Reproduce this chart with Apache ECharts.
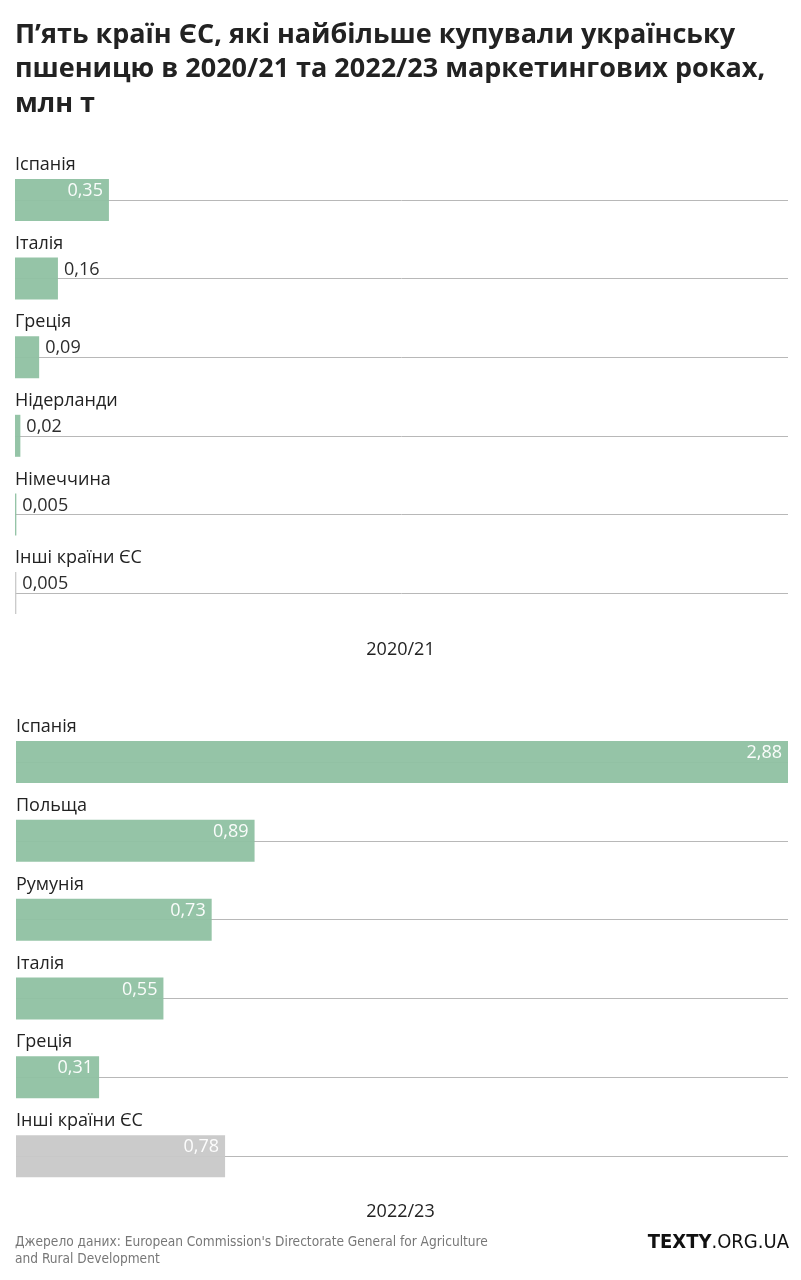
<!DOCTYPE html>
<html><head><meta charset="utf-8">
<script src="https://cdn.jsdelivr.net/npm/echarts@6/dist/echarts.min.js"></script>
<style>html,body{margin:0;padding:0;background:#fff}#c{width:801px;height:1280px}</style>
</head><body><div id="c"></div>
<script>
const titleText = 'П’ять країн ЄС, які найбільше купували українську\nпшеницю в 2020/21 та 2022/23 маркетингових роках,\nмлн т';
const categoriesA = ['Іспанія','Італія','Греція','Нідерланди','Німеччина','Інші країни ЄС'];
const valuesA = [0.35, 0.16, 0.09, 0.02, 0.005, 0.005];
const periodA = '2020/21';
const categoriesB = ['Іспанія','Польща','Румунія','Італія','Греція','Інші країни ЄС'];
const valuesB = [2.88, 0.89, 0.73, 0.55, 0.31, 0.78];
const periodB = '2022/23';
const axisMax = 2.88;
const sourceText = 'Джерело даних: European Commission\'s Directorate General for Agriculture\nand Rural Development';

const GREEN = '#8fc1a2', GREY = '#c8c8c8', LINE = '#b8b8b8', TEXT = '#222';
const FONT = '"Open Sans", Roboto, sans-serif';
const NARROW = '"Liberation Sans Narrow", "DejaVu Sans Condensed", sans-serif';
const OTHER = 'Інші країни ЄС';

function items(cats, vals) {
  return vals.map((v, i) => {
    const inside = v >= 0.3;
    return {
      value: v,
      itemStyle: { color: cats[i] === OTHER ? GREY : GREEN, opacity: 0.95 },
      label: inside
        ? { position: 'insideRight', color: '#fff', offset: [-1, -9] }
        : { position: 'right', color: TEXT, offset: [0, -9], distance: 6 }
    };
  });
}
function lineData(cats) {
  return cats.map((c, i) => [{ coord: [0, i] }, { coord: [axisMax, i] }]);
}
const grids = [
  { left: 15, right: 13, top: 160.7, height: 471.6 },
  { left: 16, right: 13, top: 722.6, height: 473 }
];
function yAx(cats, gi) {
  return {
    type: 'category', gridIndex: gi, data: cats, inverse: true,
    axisLine: { show: false }, axisTick: { show: false }, splitLine: { show: false },
    axisLabel: { inside: true, margin: 0, interval: 0, verticalAlign: 'bottom', padding: [0, 0, 26, 0],
      fontSize: 18, color: TEXT, fontFamily: FONT }
  };
}
function xAx(gi) {
  return { type: 'value', gridIndex: gi, min: 0, max: axisMax, show: false };
}
function barSeries(cats, vals, gi) {
  return {
    type: 'bar', xAxisIndex: gi, yAxisIndex: gi, barWidth: 42, z: 3,
    data: items(cats, vals),
    label: { show: true, fontSize: 18, fontFamily: FONT,
      formatter: p => String(p.value).replace('.', ',') }
  };
}
function lineSeries(cats, gi) {
  return {
    type: 'line', xAxisIndex: gi, yAxisIndex: gi, data: [], z: 1, silent: true,
    markLine: { silent: true, z: 1, symbol: ['none', 'none'], label: { show: false },
      lineStyle: { color: LINE, width: 1, type: 'solid' }, animation: false,
      data: lineData(cats) }
  };
}
const chart = echarts.init(document.getElementById('c'), null, { renderer: 'canvas' });
chart.setOption({
  animation: false,
  backgroundColor: '#fff',
  title: [
    { text: titleText, left: 15, top: 18, padding: 0,
      textStyle: { fontSize: 27, fontWeight: 'bold', lineHeight: 34.5, color: TEXT, fontFamily: FONT } },
    { text: periodA, left: 'center', top: 640, padding: 0,
      textStyle: { fontSize: 18, fontWeight: 'normal', lineHeight: 20, color: TEXT, fontFamily: FONT } },
    { text: periodB, left: 'center', top: 1202, padding: 0,
      textStyle: { fontSize: 18, fontWeight: 'normal', lineHeight: 20, color: TEXT, fontFamily: FONT } },
    { text: sourceText, left: 15, top: 1234, padding: 0,
      textStyle: { fontSize: 13.6, fontWeight: 'normal', lineHeight: 17, color: '#777', fontFamily: NARROW } },
    { text: '{b|TEXTY}{r|.ORG.UA}', right: 12, top: 1233, padding: 0,
      textStyle: { rich: {
        b: { fontSize: 20, fontWeight: 'bold', color: '#111', fontFamily: NARROW },
        r: { fontSize: 20, fontWeight: 'normal', color: '#111', fontFamily: NARROW } } } }
  ],
  grid: grids,
  xAxis: [xAx(0), xAx(1)],
  yAxis: [yAx(categoriesA, 0), yAx(categoriesB, 1)],
  series: [
    lineSeries(categoriesA, 0), barSeries(categoriesA, valuesA, 0),
    lineSeries(categoriesB, 1), barSeries(categoriesB, valuesB, 1)
  ]
});
</script></body></html>
